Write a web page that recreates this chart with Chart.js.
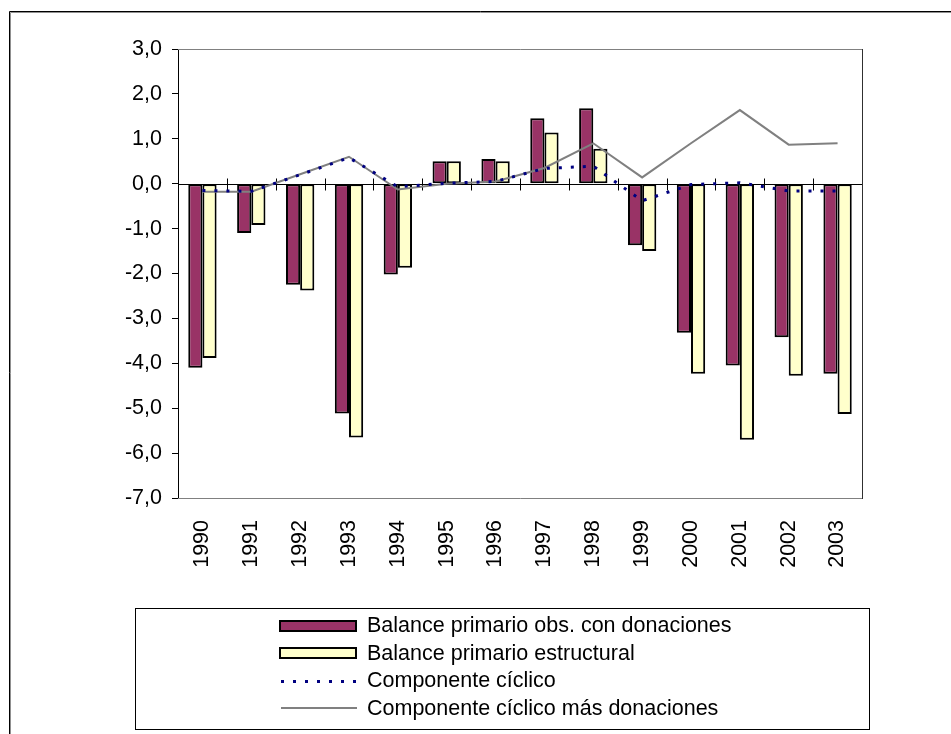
<!DOCTYPE html>
<html>
<head>
<meta charset="utf-8">
<script src="https://cdn.jsdelivr.net/npm/chart.js@4/dist/chart.umd.min.js"></script>
<style>
  html, body { margin: 0; padding: 0; background: #ffffff; }
  canvas { display: block; }
</style>
</head>
<body>
<canvas id="grafico" width="951" height="734"></canvas>
<script>
// Años del periodo
const years = ['1990', '1991', '1992', '1993', '1994', '1995', '1996',
               '1997', '1998', '1999', '2000', '2001', '2002', '2003'];

// Balance primario observado con donaciones (% del PIB)
const balanceObservado = [-4.1, -1.1, -2.25, -5.12, -2.02, 0.5, 0.55,
                          1.46, 1.68, -1.37, -3.32, -4.05, -3.42, -4.23];

// Balance primario estructural (% del PIB)
const balanceEstructural = [-3.88, -0.92, -2.38, -5.65, -1.87, 0.5, 0.5,
                            1.14, 0.78, -1.5, -4.23, -5.7, -4.28, -5.13];

// Componente cíclico
const componenteCiclico = [-0.15, -0.17, 0.2, 0.58, -0.07, 0.01, 0.05,
                           0.34, 0.39, -0.38, -0.02, 0.02, -0.16, -0.16];

// Componente cíclico más donaciones
const cicloMasDonaciones = [-0.18, -0.18, 0.21, 0.6, -0.13, 0.0, 0.05,
                            0.35, 0.9, 0.14, 0.9, 1.64, 0.87, 0.9];

// Rango del eje vertical
const yMin = -7;
const yMax = 3;
const yStep = 1;

const seriesNames = [
  'Balance primario obs. con donaciones',
  'Balance primario estructural',
  'Componente cíclico',
  'Componente cíclico más donaciones'
];

const FONT_FAMILY = '"Liberation Sans", Arial, Helvetica, sans-serif';
const FONT_SIZE = 21.5;

// Marco exterior, contorno del área de trazado, eje en cero y leyenda en recuadro
const marcoPlugin = {
  id: 'marco',
  beforeDatasetsDraw(chart) {
    const { ctx, chartArea: a, scales } = chart;
    const x = scales.x, y = scales.y;
    ctx.save();
    // contorno del área de trazado
    ctx.lineWidth = 1;
    ctx.strokeStyle = '#808080';
    ctx.beginPath();
    ctx.moveTo(a.left, a.top + 0.5);
    ctx.lineTo(a.right + 0.5, a.top + 0.5);
    ctx.moveTo(a.right + 0.5, a.bottom + 0.5);
    ctx.lineTo(a.left, a.bottom + 0.5);
    ctx.stroke();
    ctx.strokeStyle = '#303030';
    ctx.beginPath();
    ctx.moveTo(a.right + 0.5, a.top);
    ctx.lineTo(a.right + 0.5, a.bottom + 1);
    ctx.stroke();
    // eje horizontal en cero con marcas cruzadas entre categorías
    const y0 = Math.round(y.getPixelForValue(0)) + 0.5;
    ctx.strokeStyle = '#000000';
    ctx.beginPath();
    ctx.moveTo(a.left, y0);
    ctx.lineTo(a.right, y0);
    for (let i = 1; i < years.length; i++) {
      const px = Math.round((x.getPixelForValue(i - 1) + x.getPixelForValue(i)) / 2) + 0.5;
      ctx.moveTo(px, y0 - 6);
      ctx.lineTo(px, y0 + 6);
    }
    ctx.stroke();
    ctx.restore();
  },
  afterDraw(chart) {
    const { ctx } = chart;
    ctx.save();
    // marco exterior del gráfico
    ctx.lineWidth = 1;
    ctx.strokeStyle = '#909090';
    ctx.beginPath();
    ctx.moveTo(10.5, 734);
    ctx.lineTo(10.5, 12.5);
    ctx.lineTo(951, 12.5);
    ctx.stroke();
    ctx.strokeStyle = '#000000';
    ctx.beginPath();
    ctx.moveTo(9.5, 734);
    ctx.lineTo(9.5, 11.5);
    ctx.lineTo(951, 11.5);
    ctx.stroke();

    // recuadro de la leyenda
    const box = { left: 135.5, top: 608.5, right: 869.5, bottom: 729.5 };
    ctx.strokeStyle = '#000000';
    ctx.lineWidth = 1;
    ctx.strokeRect(box.left, box.top, box.right - box.left, box.bottom - box.top);

    const symLeft = 279, symRight = 357, textX = 367;
    const rowY = [625.5, 653, 680.5, 708];
    const ds = chart.data.datasets;
    ctx.font = FONT_SIZE + 'px ' + FONT_FAMILY;
    ctx.textAlign = 'left';
    ctx.textBaseline = 'middle';
    ds.forEach((d, i) => {
      const yy = rowY[i];
      if (d.type === 'line') {
        ctx.strokeStyle = d.borderColor;
        ctx.lineWidth = d.borderWidth;
        ctx.setLineDash(d.borderDash || []);
        ctx.beginPath();
        ctx.moveTo(symLeft + 2, Math.round(yy) + (d.borderWidth % 2 ? 0.5 : 0));
        ctx.lineTo(symRight, Math.round(yy) + (d.borderWidth % 2 ? 0.5 : 0));
        ctx.stroke();
        ctx.setLineDash([]);
      } else {
        ctx.fillStyle = '#000000';
        ctx.fillRect(symLeft, Math.round(yy) - 6, symRight - symLeft, 12);
        ctx.fillStyle = d.backgroundColor;
        ctx.fillRect(symLeft + 2, Math.round(yy) - 4, symRight - symLeft - 4, 8);
      }
      ctx.fillStyle = '#000000';
      ctx.fillText(d.label, textX, yy + 1);
    });
    ctx.restore();
  }
};

const ctx = document.getElementById('grafico').getContext('2d');
new Chart(ctx, {
  type: 'bar',
  data: {
    labels: years,
    datasets: [
      {
        label: seriesNames[0],
        data: balanceObservado,
        backgroundColor: '#993366',
        borderColor: '#000000',
        borderWidth: 2,
        borderSkipped: false,
        categoryPercentage: 0.58,
        barPercentage: 1.0,
        order: 2
      },
      {
        label: seriesNames[1],
        data: balanceEstructural,
        backgroundColor: '#FFFFCC',
        borderColor: '#000000',
        borderWidth: 2,
        borderSkipped: false,
        categoryPercentage: 0.58,
        barPercentage: 1.0,
        order: 2
      },
      {
        type: 'line',
        label: seriesNames[2],
        data: componenteCiclico,
        borderColor: '#000080',
        borderWidth: 3,
        borderDash: [3, 9],
        borderCapStyle: 'butt',
        pointRadius: 0,
        fill: false,
        tension: 0,
        order: 0
      },
      {
        type: 'line',
        label: seriesNames[3],
        data: cicloMasDonaciones,
        borderColor: '#808080',
        borderWidth: 2,
        pointRadius: 0,
        fill: false,
        tension: 0,
        order: 1
      }
    ]
  },
  options: {
    responsive: false,
    animation: false,
    devicePixelRatio: 1,
    layout: { padding: { left: 0, top: 49, right: 89, bottom: 0 } },
    plugins: {
      legend: { display: false },
      tooltip: { enabled: false }
    },
    scales: {
      x: {
        grid: { display: false, drawTicks: false },
        border: { display: false },
        ticks: {
          autoSkip: false,
          minRotation: 90,
          maxRotation: 90,
          padding: 22,
          color: '#000000',
          font: { family: FONT_FAMILY, size: FONT_SIZE }
        },
        afterFit(scale) { scale.height = 236; }
      },
      y: {
        min: yMin,
        max: yMax,
        ticks: {
          stepSize: yStep,
          padding: 10,
          color: '#000000',
          font: { family: FONT_FAMILY, size: FONT_SIZE },
          callback: (v) => Number(v).toFixed(1).replace('.', ',')
        },
        grid: {
          drawOnChartArea: false,
          drawTicks: true,
          tickLength: 6,
          color: '#000000'
        },
        border: { display: true, color: '#000000', width: 1 },
        afterFit(scale) { scale.width = 178; }
      }
    }
  },
  plugins: [marcoPlugin]
});
</script>
</body>
</html>
